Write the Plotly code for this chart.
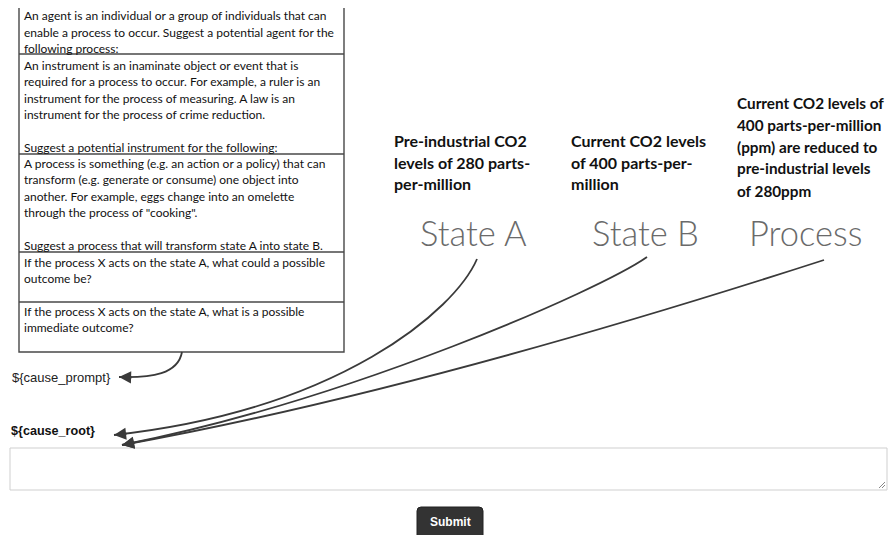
import math
import plotly.graph_objects as go

# ---- content ----
box_lines = [
    "An agent is an individual or a group of individuals that can",
    "enable a process to occur. Suggest a potential agent for the",
    "following process:",
    "An instrument is an inaminate object or event that is",
    "required for a process to occur. For example, a ruler is an",
    "instrument for the process of measuring. A law is an",
    "instrument for the process of crime reduction.",
    "Suggest a potential instrument for the following:",
    "A process is something (e.g. an action or a policy) that can",
    "transform (e.g. generate or consume) one object into",
    "another. For example, eggs change into an omelette",
    "through the process of \"cooking\".",
    "Suggest a process that will transform state A into state B.",
    "If the process X acts on the state A, what could a possible",
    "outcome be?",
    "If the process X acts on the state A, what is a possible",
    "immediate outcome?",
]
state_titles = ["State A", "State B", "Process"]
state_descriptions = [
    ["Pre-industrial CO2", "levels of 280 parts-", "per-million"],
    ["Current CO2 levels", "of 400 parts-per-", "million"],
    ["Current CO2 levels of", "400 parts-per-million", "(ppm) are reduced to",
     "pre-industrial levels", "of 280ppm"],
]
prompt_label = "${cause_prompt}"
root_label = "${cause_root}"
button_label = "Submit"

# ---- layout geometry (pixels, page coordinates) ----
W, H = 896, 535
OFF = 8  # page body margin
box_x0, box_x1 = 19, 344
box_row_edges = [5, 54, 154, 252, 302, 352]
box_line_y = [15, 32, 48, 65, 81, 98, 114, 147, 163, 179, 196, 212, 245, 262, 278, 311, 327]
box_text_x = 22

desc_x = [392, 569, 735]
desc_y = [[140, 162, 183], [140, 162, 183], [103, 125, 147, 168, 191]]
desc_size = [16, 16, 15.3]
title_x = [473, 645, 805]
title_y = 232

curves = [
    ((477, 259), (455, 310), (340, 410), (114, 435)),
    ((647, 257), (600, 290), (350, 400), (122, 445)),
    ((824, 260), (700, 300), (400, 395), (122, 445)),
]
prompt_curve = ((182, 352), (178, 374), (152, 378), (119, 377))

fig = go.Figure()
fig.add_trace(go.Scatter(x=[OFF, W + OFF], y=[OFF, H + OFF], mode="markers",
                         marker=dict(opacity=0), hoverinfo="skip", showlegend=False))

shapes = []
shapes.append(dict(type="rect", x0=box_x0, x1=box_x1, y0=box_row_edges[0], y1=box_row_edges[-1],
                   xref="x", yref="y", line=dict(color="#484848", width=1.4)))
for e in box_row_edges[1:-1]:
    shapes.append(dict(type="line", x0=box_x0, x1=box_x1, y0=e, y1=e, xref="x", yref="y",
                       line=dict(color="#484848", width=1.4)))


def bez(c):
    (a, b, cc, d) = c
    return f"M {a[0]},{a[1]} C {b[0]},{b[1]} {cc[0]},{cc[1]} {d[0]},{d[1]}"


for c in curves + [prompt_curve]:
    shapes.append(dict(type="path", path=bez(c), xref="x", yref="y",
                       line=dict(color="#3a3a3a", width=1.8)))

# textarea
shapes.append(dict(type="rect", x0=10, x1=887, y0=448, y1=490, xref="x", yref="y",
                   line=dict(color="#cfcfcf", width=1)))
shapes.append(dict(type="line", x0=879, y0=488, x1=885, y1=482, xref="x", yref="y",
                   line=dict(color="#888", width=1)))
shapes.append(dict(type="line", x0=882, y0=488, x1=885, y1=485, xref="x", yref="y",
                   line=dict(color="#888", width=1)))
# submit button (rounded)
bx0, bx1, by0, by1, r = 417, 483, 507, 540, 4
shapes.append(dict(type="path", xref="x", yref="y",
                   path=(f"M {bx0+r},{by0} L {bx1-r},{by0} Q {bx1},{by0} {bx1},{by0+r} "
                         f"L {bx1},{by1} L {bx0},{by1} L {bx0},{by0+r} Q {bx0},{by0} {bx0+r},{by0} Z"),
                   fillcolor="#333333", line=dict(color="#222", width=1)))

ann = []
for t, y in zip(box_lines, box_line_y):
    ann.append(dict(x=box_text_x, y=y, text=t, showarrow=False, xanchor="left", yanchor="middle",
                    font=dict(family="Lato", size=12, color="#111")))
for lines, x, ys, fs in zip(state_descriptions, desc_x, desc_y, desc_size):
    for t, y in zip(lines, ys):
        ann.append(dict(x=x, y=y, text=t, showarrow=False, xanchor="left", yanchor="middle",
                        font=dict(family="Lato", size=fs, color="#111", weight="bold")))
for t, x in zip(state_titles, title_x):
    ann.append(dict(x=x, y=title_y, text=t, showarrow=False, xanchor="center", yanchor="middle",
                    font=dict(family="Lato", size=34.5, color="#6a6a6a", weight=300)))

for c in curves + [prompt_curve]:
    p2, p3 = c[2], c[3]
    dx, dy = p2[0] - p3[0], p2[1] - p3[1]
    n = math.hypot(dx, dy)
    ann.append(dict(x=p3[0], y=p3[1], ax=dx / n * 14, ay=dy / n * 14, axref="pixel", ayref="pixel",
                    text="", showarrow=True, arrowhead=2, arrowsize=1.1, arrowwidth=2.2,
                    arrowcolor="#3a3a3a"))

ann.append(dict(x=10, y=377, text=prompt_label, showarrow=False, xanchor="left", yanchor="middle",
                font=dict(family="Liberation Sans", size=13, color="#222")))
ann.append(dict(x=9, y=431, text=root_label, showarrow=False, xanchor="left", yanchor="middle",
                font=dict(family="Liberation Sans", size=12.6, color="#111", weight="bold")))
ann.append(dict(x=450, y=522, text=button_label, showarrow=False,
                xanchor="center", yanchor="middle",
                font=dict(family="Liberation Sans", size=12, color="white", weight="bold")))

fig.update_layout(
    width=W, height=H, margin=dict(l=0, r=0, t=0, b=0),
    paper_bgcolor="white", plot_bgcolor="white",
    xaxis=dict(range=[OFF, W + OFF], visible=False, fixedrange=True),
    yaxis=dict(range=[H + OFF, OFF], visible=False, fixedrange=True),
    shapes=shapes, annotations=ann, showlegend=False,
)
fig.write_html("out.html", config={"displayModeBar": False})
